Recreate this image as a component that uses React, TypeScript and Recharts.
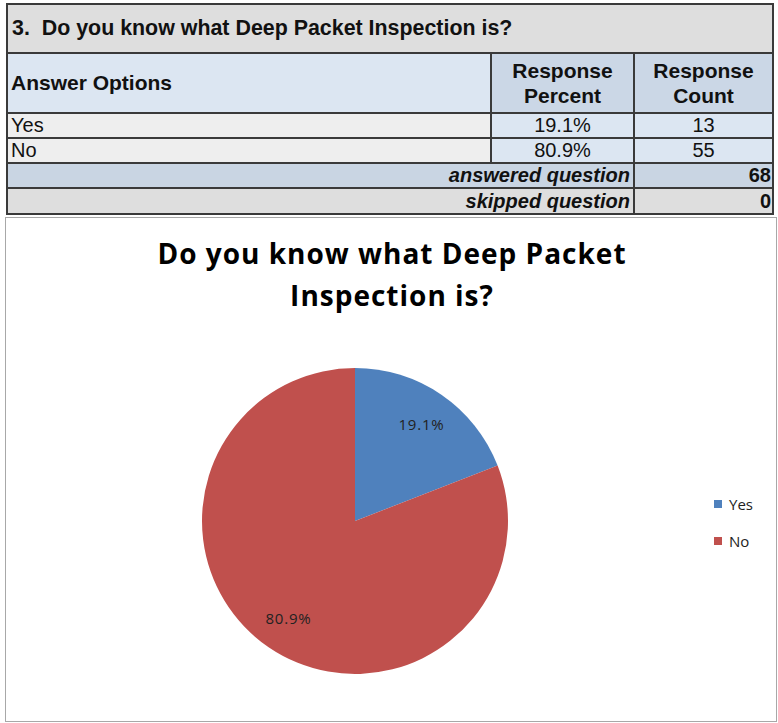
import React from "react";
import { PieChart, Pie, Cell } from "recharts";

const question = "3.  Do you know what Deep Packet Inspection is?";
const chartTitle = ["Do you know what Deep Packet", "Inspection is?"];
const answerOptions = ["Yes", "No"];
const responsePercent = [19.1, 80.9];
const responseCount = [13, 55];
const answeredQuestion = 68;
const skippedQuestion = 0;
const sliceColors = ["#4F81BD", "#C0504D"];

const pieData = answerOptions.map((name, i) => ({ name, value: responsePercent[i] }));

const border = "2px solid #3a3a3a";
const cellFont = "'Liberation Sans', Arial, sans-serif";

function Cellbox({ x, y, w, h, bg, children, style }: any) {
  return (
    <div
      style={{
        position: "absolute",
        left: x,
        top: y,
        width: w,
        height: h,
        background: bg,
        boxSizing: "border-box",
        borderRight: border,
        borderBottom: border,
        fontFamily: cellFont,
        fontSize: 20,
        color: "#111",
        display: "flex",
        alignItems: "center",
        overflow: "hidden",
        whiteSpace: "pre",
        ...style,
      }}
    >
      {children}
    </div>
  );
}

const RAD = Math.PI / 180;
function renderLabel({ cx, cy, midAngle, outerRadius, value }: any) {
  const r = outerRadius * 0.77;
  const x = cx + r * Math.cos(-midAngle * RAD);
  const y = cy + r * Math.sin(-midAngle * RAD);
  return (
    <text x={x} y={y} textAnchor="middle" dominantBaseline="central" fill="#222" fontSize={15} letterSpacing={0.8} fontFamily="'Open Sans', sans-serif">
      {value.toFixed(1)}%
    </text>
  );
}

export default function App() {
  const c1 = 492;
  const c2 = 635;
  const right = 774;
  return (
    <div style={{ position: "absolute", left: 0, top: 0, width: 778, height: 723, background: "#fff" }}>
      {/* survey table */}
      <div style={{ position: "absolute", left: 6, top: 3, width: right - 6, height: 212, borderLeft: border, borderTop: border, boxSizing: "border-box" }} />
      <Cellbox x={8} y={5} w={right - 8} h={49} bg="#DEDEDE" style={{ fontWeight: "bold", fontSize: 21.4, paddingLeft: 4 }}>
        {question}
      </Cellbox>
      <Cellbox x={8} y={54} w={c1 - 8} h={60} bg="#DCE6F2" style={{ fontWeight: "bold", fontSize: 21, paddingLeft: 3 }}>
        Answer Options
      </Cellbox>
      <Cellbox x={c1} y={54} w={c2 - c1} h={60} bg="#CBD7E6" style={{ fontWeight: "bold", justifyContent: "center", textAlign: "center", whiteSpace: "normal", lineHeight: "25px", fontSize: 21 }}>
        Response<br />Percent
      </Cellbox>
      <Cellbox x={c2} y={54} w={right - c2} h={60} bg="#CBD7E6" style={{ fontWeight: "bold", justifyContent: "center", textAlign: "center", whiteSpace: "normal", lineHeight: "25px", fontSize: 21 }}>
        Response<br />Count
      </Cellbox>
      {answerOptions.map((opt, i) => (
        <React.Fragment key={opt}>
          <Cellbox x={8} y={114 + i * 25} w={c1 - 8} h={25} bg="#EEEEEE" style={{ paddingLeft: 3 }}>
            {opt}
          </Cellbox>
          <Cellbox x={c1} y={114 + i * 25} w={c2 - c1} h={25} bg="#DCE6F2" style={{ justifyContent: "center" }}>
            {responsePercent[i].toFixed(1)}%
          </Cellbox>
          <Cellbox x={c2} y={114 + i * 25} w={right - c2} h={25} bg="#DCE6F2" style={{ justifyContent: "center" }}>
            {responseCount[i]}
          </Cellbox>
        </React.Fragment>
      ))}
      <Cellbox x={8} y={164} w={c2 - 8} h={25} bg="#C9D5E3" style={{ fontWeight: "bold", fontStyle: "italic", justifyContent: "flex-end", paddingRight: 3 }}>
        answered question
      </Cellbox>
      <Cellbox x={c2} y={164} w={right - c2} h={25} bg="#C9D5E3" style={{ fontWeight: "bold", justifyContent: "flex-end", paddingRight: 1 }}>
        {answeredQuestion}
      </Cellbox>
      <Cellbox x={8} y={189} w={c2 - 8} h={26} bg="#DEDEDE" style={{ fontWeight: "bold", fontStyle: "italic", justifyContent: "flex-end", paddingRight: 3 }}>
        skipped question
      </Cellbox>
      <Cellbox x={c2} y={189} w={right - c2} h={26} bg="#DEDEDE" style={{ fontWeight: "bold", justifyContent: "flex-end", paddingRight: 1 }}>
        {skippedQuestion}
      </Cellbox>

      {/* chart area */}
      <div style={{ position: "absolute", left: 5, top: 217, width: 772, height: 505, border: "1px solid #a8a8a8", boxSizing: "border-box", background: "#fff" }}>
        <div
          style={{
            position: "absolute",
            left: 0,
            top: 14,
            width: 772,
            textAlign: "center",
            fontFamily: "'Open Sans', sans-serif",
            fontWeight: "bold",
            fontSize: 28,
            letterSpacing: 1,
            lineHeight: "42px",
            color: "#000",
            boxSizing: "border-box",
          }}
        >
          {chartTitle[0]}
          <br />
          {chartTitle[1]}
        </div>
        <PieChart width={770} height={503} margin={{ top: 0, right: 0, bottom: 0, left: 0 }} style={{ position: "absolute", left: 0, top: 0 }}>
          <Pie
            data={pieData}
            dataKey="value"
            nameKey="name"
            cx={349}
            cy={303}
            outerRadius={153}
            startAngle={90}
            endAngle={-270}
            stroke="none"
            label={renderLabel}
            labelLine={false}
            isAnimationActive={false}
          >
            {pieData.map((d, i) => (
              <Cell key={d.name} fill={sliceColors[i]} />
            ))}
          </Pie>
        </PieChart>
        <div style={{ position: "absolute", left: 708, top: 267, fontFamily: "'Open Sans', sans-serif", fontSize: 15, color: "#222" }}>
          {pieData.map((d, i) => (
            <div key={d.name} style={{ display: "flex", alignItems: "center", height: 37 }}>
              <span style={{ display: "inline-block", width: 8, height: 8, background: sliceColors[i], marginRight: 7 }} />
              {d.name}
            </div>
          ))}
        </div>
      </div>
    </div>
  );
}
